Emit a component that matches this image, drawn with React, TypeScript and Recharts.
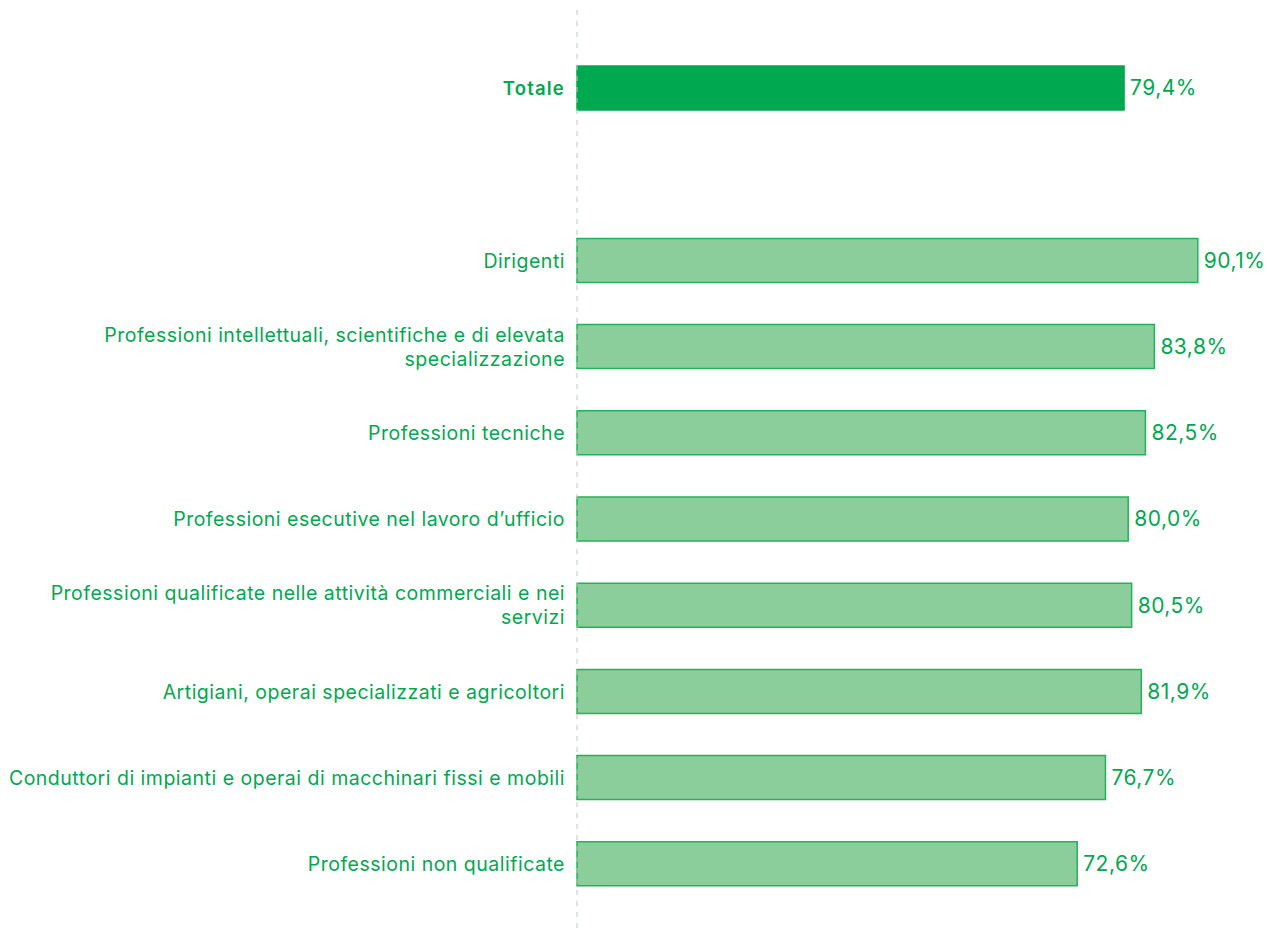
import React from "react";
import { BarChart, Bar, XAxis, YAxis, LabelList, Cell } from "recharts";

const categories: string[] = [
  "Totale",
  "",
  "Dirigenti",
  "Professioni intellettuali, scientifiche e di elevata\nspecializzazione",
  "Professioni tecniche",
  "Professioni esecutive nel lavoro d\u2019ufficio",
  "Professioni qualificate nelle attività commerciali e nei\nservizi",
  "Artigiani, operai specializzati e agricoltori",
  "Conduttori di impianti e operai di macchinari fissi e mobili",
  "Professioni non qualificate",
];

const values: (number | null)[] = [79.4, null, 90.1, 83.8, 82.5, 80.0, 80.5, 81.9, 76.7, 72.6];

const highlighted: boolean[] = [true, false, false, false, false, false, false, false, false, false];

const data = categories.map((c, i) => ({ name: c, value: values[i], hl: highlighted[i] }));

const GREEN = "#00A84F";
const FONT = "Inter, 'Noto Sans', sans-serif";

const Tick = (props: any) => {
  const { x, y, payload } = props;
  const text: string = payload.value || "";
  if (!text) return null;
  const lines = text.split("\n");
  const lh = 24;
  const bold = text === "Totale";
  const startDy = -((lines.length - 1) * lh) / 2;
  return (
    <text
      x={x}
      y={y}
      textAnchor="end"
      fill={GREEN}
      fontFamily={FONT}
      fontSize={bold ? 18.5 : 19.5}
      fontWeight={bold ? 600 : 400}
      letterSpacing={bold ? 1.2 : 0.5}
      dominantBaseline="central"
    >
      {lines.map((l, i) => (
        <tspan key={i} x={x} dy={i === 0 ? startDy : lh}>
          {l}
        </tspan>
      ))}
    </text>
  );
};

const fmt = (v: any) => (v == null ? "" : `${Number(v).toFixed(1).replace(".", ",")}%`);

export default function App() {
  return (
    <div style={{ position: "absolute", left: 0, top: 0, width: 1267, height: 936, background: "#fff" }}>
      <BarChart
        width={1267}
        height={936}
        data={data}
        layout="vertical"
        margin={{ top: 10, right: 1, bottom: 6, left: 0 }}
      >
        <XAxis type="number" domain={[0, 100]} hide />
        <YAxis
          type="category"
          dataKey="name"
          width={577}
          tick={<Tick />}
          tickLine={false}
          tickSize={0}
          tickMargin={12}
          axisLine={{ stroke: "#b9c9bd", strokeDasharray: "5 6", strokeWidth: 1 }}
          padding={{ top: 35, bottom: 23 }}
          interval={0}
        />
        <Bar dataKey="value" barSize={44} isAnimationActive={false}>
          {data.map((d, i) => (
            <Cell
              key={i}
              fill={d.hl ? GREEN : "#8BCD9B"}
              stroke={d.hl ? GREEN : "#22B35A"}
              strokeWidth={1.5}
            />
          ))}
          <LabelList
            dataKey="value"
            position="right"
            offset={6}
            formatter={fmt}
            fill={GREEN}
            fontSize={21}
            letterSpacing={0.5}
            fontFamily={FONT}
          />
        </Bar>
      </BarChart>
    </div>
  );
}
